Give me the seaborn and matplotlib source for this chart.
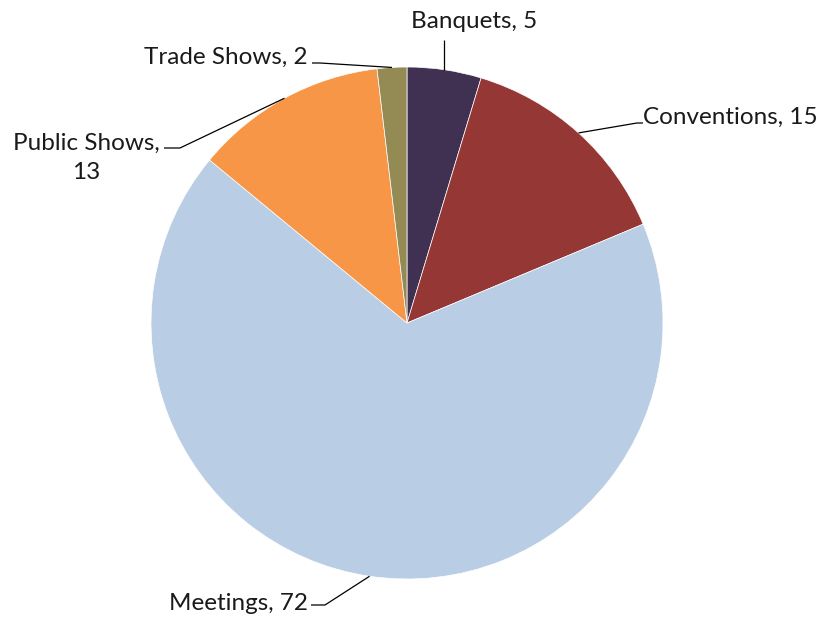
import numpy as np
import matplotlib
matplotlib.use("Agg")
import matplotlib.pyplot as plt
import seaborn as sns

# Event counts by category (clockwise from 12 o'clock)
categories = ["Banquets", "Conventions", "Meetings", "Public Shows", "Trade Shows"]
counts = [5, 15, 72, 13, 2]
slice_colors = ["#403152", "#953735", "#B9CDE5", "#F79646", "#948A54"]

sns.set_theme(style="white")
plt.rcParams["font.family"] = ["Lato", "DejaVu Sans"]

W, H, DPI = 822, 617, 100
fig = plt.figure(figsize=(W / DPI, H / DPI), dpi=DPI)
ax = fig.add_axes([0, 0, 1, 1])

# pixel-space layout helpers: centre of the pie and its radius in pixels
CX, CY, R = 407, 323, 256


def to_data(px, py):
    return (px - CX) / R, (CY - py) / R


palette = sns.color_palette(slice_colors)
wedges, _ = ax.pie(
    counts,
    colors=palette,
    startangle=90,
    counterclock=False,
    radius=1.0,
    wedgeprops=dict(edgecolor="white", linewidth=0.5),
)

x0, y0 = to_data(0, H)
x1, y1 = to_data(W, 0)
ax.set_xlim(x0, x1)
ax.set_ylim(y0, y1)
ax.set_aspect("equal")
ax.axis("off")

# label placement: text anchor, alignment, elbow and leader end (pixels)
label_layout = {
    "Banquets": dict(text=(474, 22), ha="center", elbow=None, end=(None, 40)),
    "Conventions": dict(text=(643, 117), ha="left", elbow=(637, 123), end=(643, 123)),
    "Meetings": dict(text=(308, 604), ha="right", elbow=(325, 605), end=(311, 605)),
    "Public Shows": dict(text=(86, 158), ha="center", elbow=(180, 148), end=(164, 148)),
    "Trade Shows": dict(text=(308, 57), ha="right", elbow=(320, 63), end=(312, 63)),
}

for wedge, name, value in zip(wedges, categories, counts):
    mid = np.deg2rad((wedge.theta1 + wedge.theta2) / 2)
    sx, sy = np.cos(mid) * wedge.r, np.sin(mid) * wedge.r
    lay = label_layout[name]
    pts = [(sx, sy)]
    if lay["elbow"] is not None:
        pts.append(to_data(*lay["elbow"]))
    ex, ey = lay["end"]
    if ex is None:
        pts.append((sx, to_data(0, ey)[1]))
    else:
        pts.append(to_data(ex, ey))
    xs, ys = zip(*pts)
    ax.plot(xs, ys, color="black", linewidth=0.9, solid_capstyle="butt")

    text = f"{name}, {value}"
    if name == "Public Shows":
        text = f"{name},\n{value}"
    tx, ty = to_data(*lay["text"])
    ax.text(tx, ty, text, ha=lay["ha"], va="center", fontsize=17.5,
            color="#1a1a1a", linespacing=1.5)

fig.savefig("out.png", dpi=DPI, facecolor="white")
